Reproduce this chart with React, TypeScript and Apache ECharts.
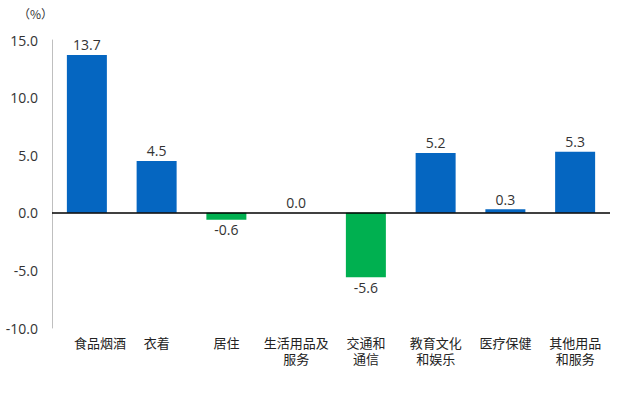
import React, { useEffect, useRef } from "react";
import * as echarts from "echarts";

const categories = ["食品烟酒", "衣着", "居住", "生活用品及\n服务", "交通和\n通信", "教育文化\n和娱乐", "医疗保健", "其他用品\n和服务"];
const values = [13.7, 4.5, -0.6, 0.0, -5.6, 5.2, 0.3, 5.3];
const yTicks = { min: -10, max: 15, interval: 5 };
const unitLabel = "（%）";

const BLUE = "#0566C1";
const GREEN = "#00B050";

export default function App() {
  const ref = useRef<HTMLDivElement>(null);
  useEffect(() => {
    const chart = echarts.init(ref.current!, null, { renderer: "svg" });
    chart.setOption({
      animation: false,
      grid: { left: 52, right: 30, top: 40, bottom: 68, containLabel: false },
      graphic: [
        {
          type: "text",
          left: 18,
          top: 7,
          style: { text: unitLabel, fontSize: 12, fill: "#333", fontFamily: "Noto Sans CJK SC" },
        },
      ],
      xAxis: {
        type: "category",
        data: categories.map((c, i) =>
          i === 0 ? { value: c, textStyle: { padding: [0, 0, 0, 26] } } : c
        ),
        axisLine: { show: false },
        axisTick: { show: false },
        axisLabel: {
          margin: 6,
          fontSize: 13,
          lineHeight: 16,
          color: "#222",
          fontFamily: "Noto Sans CJK SC",
          interval: 0,
        },
      },
      yAxis: {
        type: "value",
        min: yTicks.min,
        max: yTicks.max,
        interval: yTicks.interval,
        splitLine: { show: false },
        axisLine: { show: true, lineStyle: { color: "#BFBFBF", width: 1 } },
        axisTick: { show: false },
        axisLabel: {
          formatter: (v: number) => v.toFixed(1),
          fontSize: 14,
          color: "#333",
          margin: 14,
          fontFamily: "Open Sans",
        },
      },
      series: [
        {
          type: "bar",
          barWidth: 40,
          data: values.map((v) => ({
            value: v,
            itemStyle: { color: v < 0 ? GREEN : BLUE },
            label: { position: v < 0 ? "bottom" : "top" },
          })),
          label: {
            show: true,
            formatter: (p: any) => Number(p.value).toFixed(1),
            fontSize: 14,
            color: "#333",
            fontFamily: "Open Sans",
            distance: 3,
          },
          markLine: {
            silent: true,
            symbol: "none",
            label: { show: false },
            lineStyle: { color: "#000", width: 1.5, type: "solid" },
            data: [{ yAxis: 0 }],
          },
        },
      ],
    });
    return () => chart.dispose();
  }, []);
  return <div ref={ref} style={{ width: 640, height: 396, position: "absolute", left: 0, top: 0, background: "#fff" }} />;
}
